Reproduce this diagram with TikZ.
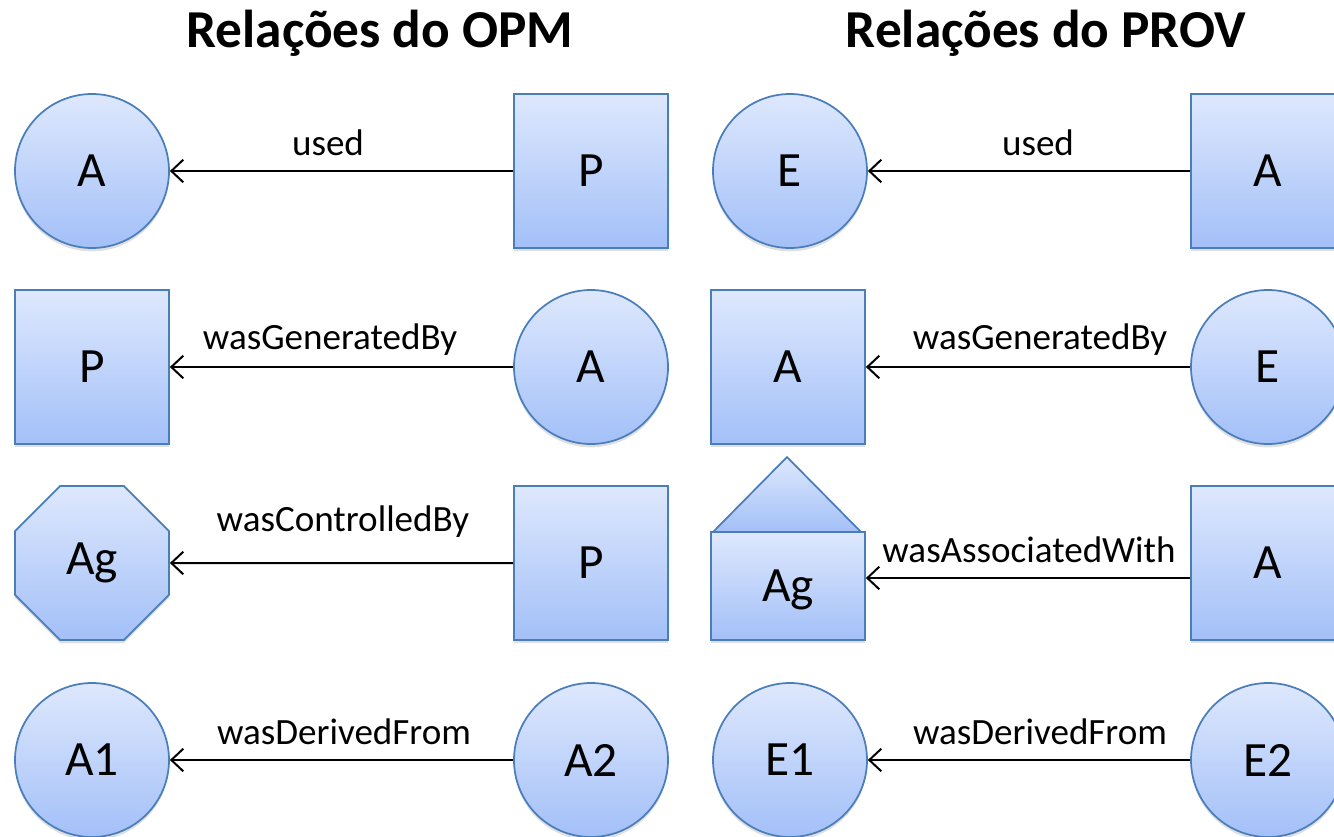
\documentclass[tikz,border=0pt]{standalone}
\usepackage{fontspec}
\setmainfont{Carlito}
\usetikzlibrary{shapes.geometric,arrows.meta,calc,shadows}
\definecolor{topc}{HTML}{DEE8FD}
\definecolor{botc}{HTML}{A3C0F8}
\definecolor{edgec}{HTML}{4A7EBB}
\tikzset{
  ent/.style={draw=edgec, line width=1.3pt, top color=topc, bottom color=botc,
    inner sep=0pt, font=\fontsize{37}{37}\selectfont,
    drop shadow={shadow xshift=0pt, shadow yshift=-2.5pt, opacity=0.25, fill=gray}},
  circ/.style={ent, circle, minimum size=115.5pt},
  sq/.style={ent, rectangle, minimum width=115.5pt, minimum height=115.5pt},
  oct/.style={ent, regular polygon, regular polygon sides=8, minimum size=125pt},
  arr/.style={line width=1.5pt, -{Straight Barb[length=9pt,width=17pt,line width=1.5pt]}},
  lbl/.style={font=\fontsize{27.8}{28}\selectfont, inner sep=0pt},
  ttl/.style={font=\fontsize{40}{40}\selectfont\bfseries, inner sep=0pt}
}
\begin{document}
\begin{tikzpicture}[x=0.75pt,y=-0.75pt]
\useasboundingbox (0,0) rectangle (1334,836);
\node[ttl] (t1) at (380,33) {Relações do OPM};
\node[ttl] (t2) at (1046,33) {Relações do PROV};

% OPM
\node[circ] (a1) at (92,171) {A};
\node[sq] (p1) at (591,171) {P};
\draw[arr] (p1.west) -- (a1.east);
\node[lbl] (l1) at (328,143) {used};

\node[sq] (p2) at (92,367) {P};
\node[circ] (a2) at (591,367) {A};
\draw[arr] (a2.west) -- (p2.east);
\node[lbl] (l2) at (330,340) {wasGeneratedBy};

\node[oct] (ag1) at (92,563) {Ag};
\node[sq] (p3) at (591,563) {P};
\draw[arr] (p3.west) -- (ag1.east);
\node[lbl] (l3) at (343,522) {wasControlledBy};

\node[circ] (d1) at (92,760) {A1};
\node[circ] (d2) at (591,760) {A2};
\draw[arr] (d2.west) -- (d1.east);
\node[lbl] (l4) at (344,732) {wasDerivedFrom};

% PROV
\node[circ] (e1) at (790,171) {E};
\node[sq] (pa1) at (1268,171) {A};
\draw[arr] (pa1.west) -- (e1.east);
\node[lbl] (r1) at (1038,143) {used};

\node[sq] (pa2) at (788,367) {A};
\node[circ] (e2) at (1268,367) {E};
\draw[arr] (e2.west) -- (pa2.east);
\node[lbl] (r2) at (1040,340) {wasGeneratedBy};

\coordinate (roofL) at (713,532);
\coordinate (roofT) at (787,457);
\coordinate (roofR) at (861,532);
\draw[draw=edgec, line width=1.3pt, top color=topc, bottom color=botc, line join=round] (roofL) -- (roofT) -- (roofR) -- cycle;
\node[ent, rectangle, minimum width=115.5pt, minimum height=81pt] (ag2) at (788,586) {};
\node[font=\fontsize{37}{37}\selectfont, inner sep=0pt] (ag2t) at (788,590) {Ag};
\node[sq] (pa3) at (1268,563) {A};
\coordinate (arrY) at (0,578);
\draw[arr] (pa3.west |- arrY) -- (ag2.east |- arrY);
\node[lbl] (r3) at (1029,550) {wasAssociatedWith};

\node[circ] (f1) at (790,760) {E1};
\node[circ] (f2) at (1268,760) {E2};
\draw[arr] (f2.west) -- (f1.east);
\node[lbl] (r4) at (1040,732) {wasDerivedFrom};
\end{tikzpicture}
\end{document}
